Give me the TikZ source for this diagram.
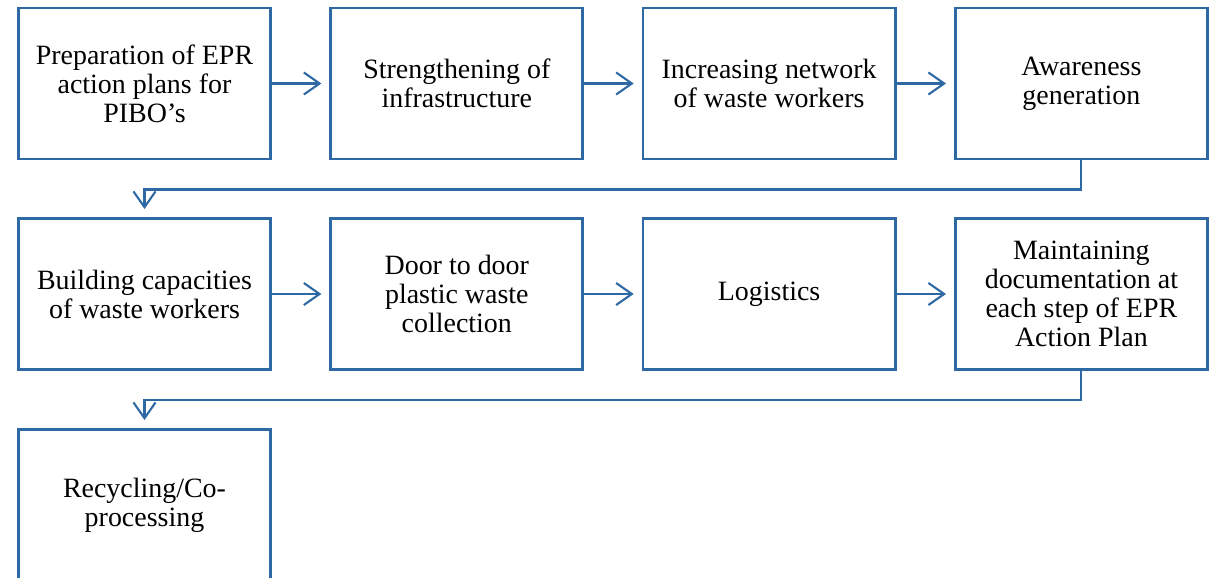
\documentclass[tikz,border=0pt]{standalone}
\usepackage{fontspec}
\setmainfont{Liberation Serif}
\usetikzlibrary{arrows.meta}
\definecolor{flowblue}{RGB}{46,105,164}
\tikzset{%
	stepbox/.style={
		rectangle,
		draw=flowblue,
		line width=1.3pt,
		minimum width=120pt,
		minimum height=72pt,
		inner sep=0pt,
		align=center,
		font=\fontsize{13.3}{13.8}\selectfont
	},
	flow/.style={
		->,
		draw=flowblue,
		line width=1pt,
		shorten >=3.8pt
	},
}

\begin{document}
\begin{tikzpicture}[x=0.476pt, y=-0.476pt, >={Straight Barb[length=7.5pt,width=10.5pt]}]
\clip (0,0) rectangle (1217,578);

% steps
\foreach \t [count=\i] in {{Preparation of EPR\\action plans for\\PIBO’s},{Strengthening of\\infrastructure},{Increasing network\\of waste workers},{Awareness\\generation}}
	\node[stepbox] (box-\i) at ({144.5+312.3*(\i-1)},83.5) {\t};
\foreach \t [count=\i from 5] in {{Building capacities\\of waste workers},{Door to door\\plastic waste\\collection},{Logistics},{Maintaining\\documentation at\\each step of EPR\\Action Plan}}
	\node[stepbox] (box-\i) at ({144.5+312.3*(\i-5)},294) {\t};
\node[stepbox] (box-9) at (144.5,505) {Recycling/Co-\\processing};

% arrows
\foreach \i/\j in {1/2,2/3,3/4,5/6,6/7,7/8}
	\draw[flow] (box-\i) -- (box-\j);
\draw[flow] (box-4.south) -- ++(0,29) -| (box-5.north);
\draw[flow] (box-8.south) -- ++(0,29) -| (box-9.north);

\end{tikzpicture}
\end{document}
